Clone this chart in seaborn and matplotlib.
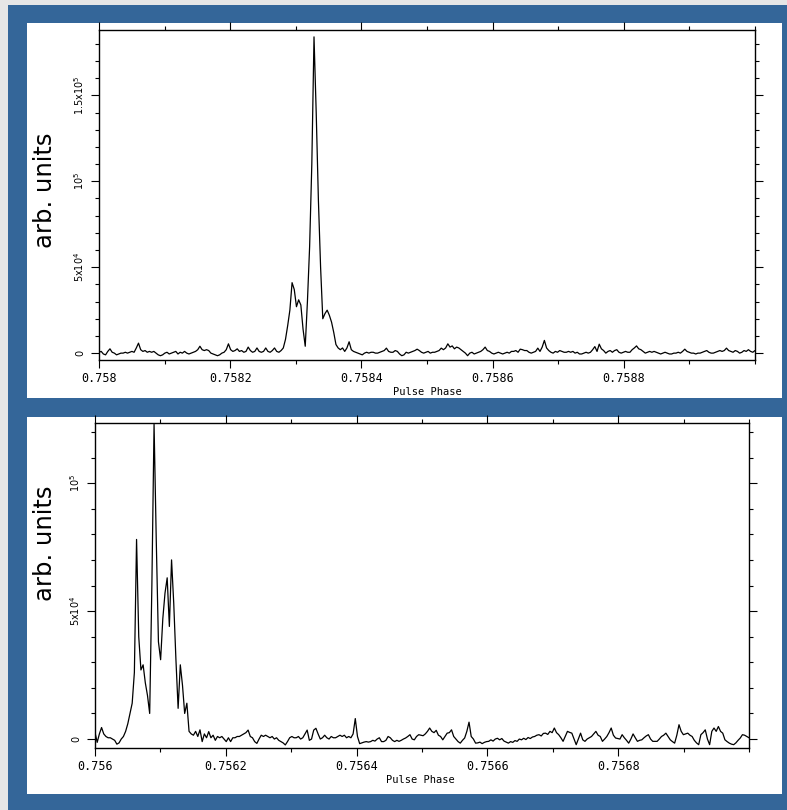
import numpy as np
import matplotlib
matplotlib.use("Agg")
import matplotlib.pyplot as plt
from matplotlib.patches import Rectangle
from matplotlib.ticker import MultipleLocator, FixedLocator
import pandas as pd
import seaborn as sns

sns.set_style("ticks")
plt.rcParams['font.family'] = ['DejaVu Sans']
plt.rcParams['text.color'] = 'black'
plt.rcParams['xtick.color'] = 'black'
plt.rcParams['ytick.color'] = 'black'
plt.rcParams['axes.labelcolor'] = 'black'

# ---------------- data (flux in units of 10^3 arb. units) ----------------
flux_top = [
    0.5, 1, -0.5, -1, 1, 2.5, 0.5, 0, -1, -0.5, 0, 0, 0.5, 0, 0.5, 1, 0.5, 3, 5.8, 2,
    1, 1.5, 0.5, 1, 0.5, 1, 0, -1, -1.5, -1, 0, 0.5, -0.5, 0, 0.5, 1, -0.5, 0.5, 0, 1,
    0, -0.5, 0, 0.5, 1, 2, 4, 2, 1.5, 2, 1.5, 0, -0.5, -1, -1.5, -1, 0, 0.5, 2, 5.4,
    2, 1, 1.5, 2.5, 1, 1.5, 0.5, 1, 3.5, 1.5, 0.5, 1, 3, 1, 0.5, 1, 3, 1, 0.5, 1.5,
    3, 1, 0.5, 1.5, 3, 8, 16, 25, 41, 37, 27, 31, 28, 14, 4, 30, 62, 110, 184, 140,
    89, 50, 20, 23, 25, 22, 18, 12, 5, 3, 2, 3, 1, 3, 6.6, 2, 1, 0.5, 0, -0.5,
    -1, 0, 0.5, 0, 0.5, 0.5, 0, 0, 0.5, 1, 1.5, 2.9, 1, 0.5, 0.5, 1.5, 1, -0.5, -1.5, -1,
    0.5, 0, 0.5, 1, 1.5, 2.3, 1.5, 0.5, 0, 0.5, 1, 0, 0.5, 0.5, 1, 1.5, 2.9, 2, 3, 5.4,
    3.5, 4.2, 2.5, 3.5, 3, 2, 1, 0, -1.5, 0, 0.5, -0.5, 0, 0.5, 1, 2, 3.5, 1.5, 1, 0,
    -0.5, 0, 0.5, 0, -0.5, 0, 0.5, 0, 1, 1, 1.5, 0.5, 2.3, 2, 1.5, 1.5, 0.5, 0, 0.5, 1,
    2.9, 1, 3.5, 7.4, 3, 1.5, 0.5, 0, 1, 0.5, 1.5, 1, 0.5, 0.5, 1, 0.5, 1, 0, 0.5, -0.5,
    -0.5, 0, 0.5, 0, 0.5, 2, 3.8, 1, 5.2, 2.5, 1.5, 0, 1, 1.5, 0.5, 1.5, 2, 0.5, 0, 0.5,
    1, 0.5, 0.5, 2, 3, 4.2, 2.5, 2, 1, 0, 0.5, 1, 0.5, 1, 0.5, 0, -0.5, 0, 0.5, 0,
    -0.5, -0.5, 0, 0, 0.5, 0, 1, 2.3, 1, 0.5, 0, 0, -0.5, 0, 0, 0.5, 1, 1.5, 0.5, 0,
    0, 0.5, 1, 1.5, 1, 1.5, 2.9, 1.5, 1, 0.5, 1.5, 1, 0, 0.5, 1.5, 1, 2, 1, 0.5, 1.5,
]

flux_bot = [
    2.6, -1.3, 2, 4.5, 2, 1, 0.5, 0.5, 0, -0.5, -2, -1.5, 0, 1, 3, 6, 10, 14, 26, 78,
    40, 27, 29, 22, 17, 10, 60, 123, 78, 38, 31, 47, 57, 63, 44, 70, 53, 31, 12, 29,
    21, 10, 14, 3, 2, 1.5, 3, 1, 3.6, -1, 2, 0.5, 2.9, 0.5, 1.5, -0.5, 1, 0.5, 1, 0,
    -1, 0.5, -1, 0.5, 0.5, 1, 1, 1.5, 2, 2.5, 3.5, 1, 0.5, -1, -1.7, 0, 1.5, 1, 1.5, 1,
    0.5, 1, 0, 0.5, -0.5, -1, -1.5, -2.3, -1, 0.5, 1, 0.5, 0.5, 1, 0, 0.5, 2, 3.5, -0.5, 0,
    3.5, 4.2, 2, 0, 0.5, 1.5, 0.5, 0, 1, 0.5, 0.5, 1, 1.5, 1, 1.5, 0.5, 1, 0.5, 2, 8,
    1, -1.8, -1.5, -1.2, -1, -1.2, -1, -0.5, -0.8, 0, 0.5, -1, -1, -0.5, 1, 0.5, -0.5, -1, -0.5, -0.9,
    -0.5, 0, 0.4, 1, 1.7, 0, -0.3, 1, 1.7, 1.5, 1.3, 2, 3, 4.3, 3, 2.5, 3.4, 1.5, 1, -0.3,
    1, 2.3, 2.5, 3.6, 1, 0, -1, -1.6, -0.5, 0.4, 3, 6.6, 1, 0, -1.6, -1.5, -1.2, -1.8, -1.3, -1,
    -0.9, -0.3, -0.8, 0, 0.3, -0.3, 0.2, -0.8, -1.2, -1.6, -1, -1.3, -0.6, -0.9, 0, -0.3, 0.3, -0.2, 0.6, 0.2,
    0.8, 1, 1.5, 1.7, 1.2, 2.2, 2.3, 1.8, 3, 2.5, 4.3, 2.5, 1.7, 0.5, -0.9, 1, 3, 2.6, 2.3, 0,
    -2.2, 0, 2.3, -0.3, -0.9, 0, 0.5, 1, 2, 3, 1.5, 1, -0.9, 0, 1, 2.5, 4.3, 1.5, 0.4, 0.2,
    0, 1.7, 0.5, -0.5, -1.6, 0, 2, 0.5, -0.9, -0.5, -0.3, 0.5, 1.2, 1.7, 0, -0.9, -0.9, -0.9, 0, 1,
    1.5, 2.3, 1, -0.3, -1, -1.6, 1.5, 5.6, 3, 1.7, 2, 2.3, 1.5, 1, -0.5, -1.5, -2.2, 1.7, 2.5, 3.6,
    0, -2.2, 3, 4.3, 3, 4.9, 3, 2.3, -0.3, -1, -1.6, -2, -2.2, -1.5, -0.5, 0.4, 1.7, 1.5, 1, 0.5,
]

phase_range_top = [0.758, 0.759]
phase_range_bot = [0.756, 0.757]

xticks_top = [0.758, 0.7582, 0.7584, 0.7586, 0.7588]
xticklabels_top = ["0.758", "0.7582", "0.7584", "0.7586", "0.7588"]
xticks_bot = [0.756, 0.7562, 0.7564, 0.7566, 0.7568]
xticklabels_bot = ["0.756", "0.7562", "0.7564", "0.7566", "0.7568"]

yticks_top = [0, 50, 100, 150]
yticklabels_top = ["0", r"5x10$^4$", r"10$^5$", r"1.5x10$^5$"]
yticks_bot = [0, 50, 100]
yticklabels_bot = ["0", r"5x10$^4$", r"10$^5$"]

labels_freq = ["4838 MHz", "4856 MHz"]

# ---------------- figure ----------------
W, H = 787, 810
fig = plt.figure(figsize=(W / 100, H / 100), dpi=100)
fig.patch.set_facecolor("#346699")

def px_rect(x0, y0, x1, y1, color):
    fig.patches.append(Rectangle((x0 / W, 1 - y1 / H), (x1 - x0) / W, (y1 - y0) / H,
                                 transform=fig.transFigure, facecolor=color,
                                 edgecolor="none", zorder=-10))

px_rect(0, 0, 8, H, "#e6e6e6")
px_rect(0, 0, W, 5, "#e6e6e6")
px_rect(27, 23, 782, 398, "white")
px_rect(27, 417, 782, 794, "white")

def ax_px(x0, y0, x1, y1):
    a = fig.add_axes([x0 / W, 1 - y1 / H, (x1 - x0) / W, (y1 - y0) / H])
    a.set_zorder(5)
    return a

ax_top = ax_px(99, 30, 755, 360)
ax_bot = ax_px(95, 423, 749, 748)

panels = [
    (ax_top, flux_top, phase_range_top, xticks_top, xticklabels_top, yticks_top,
     yticklabels_top, (-4, 188), labels_freq[0]),
    (ax_bot, flux_bot, phase_range_bot, xticks_bot, xticklabels_bot, yticks_bot,
     yticklabels_bot, (-3.5, 123.5), labels_freq[1]),
]

for ax, flux, prange, xt, xtl, yt, ytl, ylim, lab in panels:
    phase = np.linspace(prange[0], prange[1], len(flux))
    df = pd.DataFrame({"phase": phase, "flux": flux})
    sns.lineplot(data=df, x="phase", y="flux", ax=ax, color="black", linewidth=0.9,
                 estimator=None)
    ax.set_facecolor("white")
    ax.set_xlim(prange)
    ax.set_ylim(ylim)
    ax.xaxis.set_major_locator(FixedLocator(xt))
    ax.set_xticklabels(xtl, fontfamily="DejaVu Sans Mono", fontsize=8.5)
    ax.xaxis.set_minor_locator(MultipleLocator(0.0001))
    ax.yaxis.set_major_locator(FixedLocator(yt))
    ax.set_yticklabels(ytl, fontsize=7, rotation=90, va="center")
    ax.yaxis.set_minor_locator(MultipleLocator(10))
    ax.tick_params(which="both", direction="out", top=True, right=True,
                   labeltop=False, labelright=False, color="black", width=0.8)
    ax.tick_params(which="major", length=5.5)
    ax.tick_params(which="minor", length=3)
    ax.tick_params(axis="x", which="major", pad=3)
    ax.tick_params(axis="y", which="major", pad=4)
    for s in ax.spines.values():
        s.set_color("black")
        s.set_linewidth(1.0)
    ax.set_xlabel("")
    ax.set_ylabel("")

fig.text(45 / W, 1 - 190 / H, "arb. units", rotation=90, fontsize=17.5,
         ha="center", va="center")
fig.text(45 / W, 1 - 543 / H, "arb. units", rotation=90, fontsize=17.5,
         ha="center", va="center")
fig.text(590 / W, 1 - 94 / H, labels_freq[0], fontsize=30, ha="center", va="center")
fig.text(606 / W, 1 - 486 / H, labels_freq[1], fontsize=30, ha="center", va="center")
fig.text(427 / W, 1 - 392 / H, "Pulse Phase", fontsize=7.5,
         fontfamily="DejaVu Sans Mono", ha="center", va="center")
fig.text(420 / W, 1 - 780 / H, "Pulse Phase", fontsize=7.5,
         fontfamily="DejaVu Sans Mono", ha="center", va="center")

fig.savefig("out.png", dpi=100, facecolor=fig.get_facecolor())
